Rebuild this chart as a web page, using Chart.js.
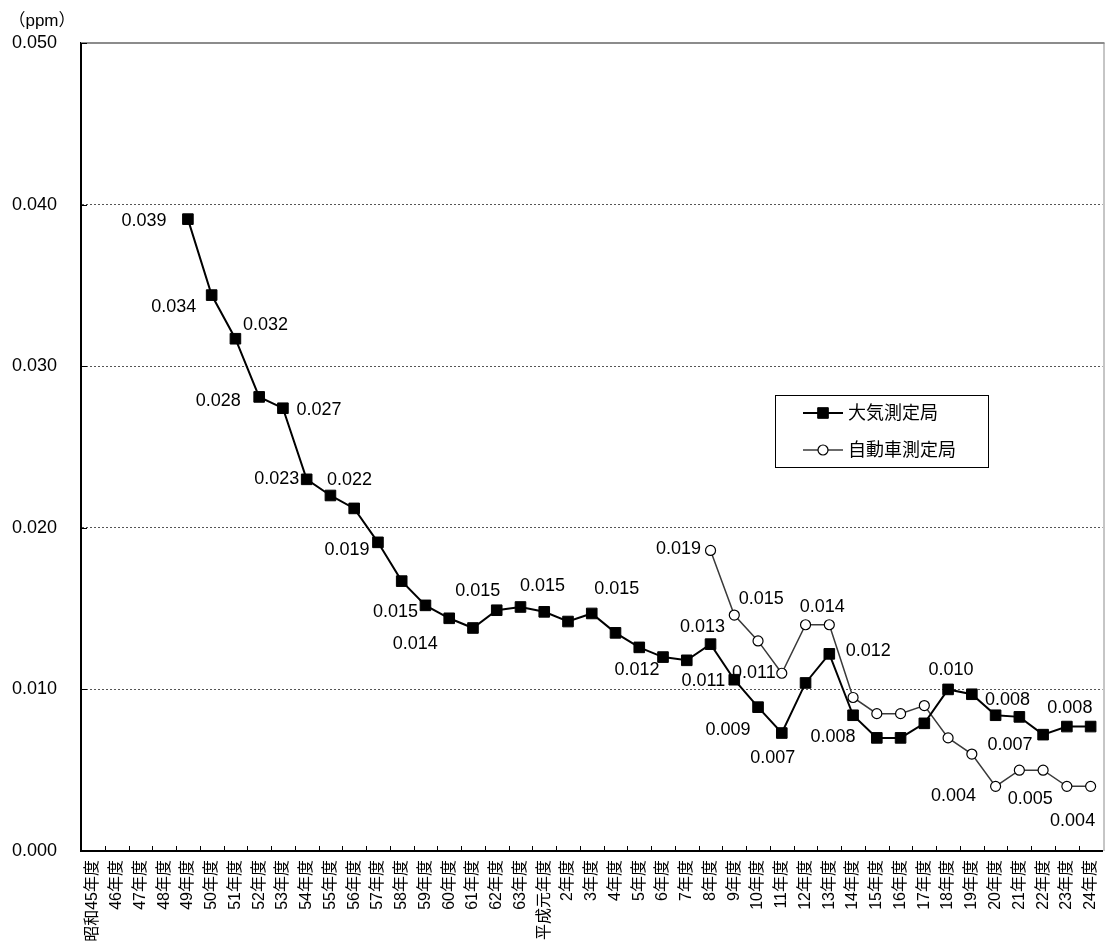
<!DOCTYPE html>
<html>
<head>
<meta charset="utf-8">
<script src="https://cdn.jsdelivr.net/npm/chart.js@4.4.0/dist/chart.umd.min.js"></script>
<style>
  html, body { margin: 0; padding: 0; background: #fff; }
  #wrap { width: 1111px; height: 944px; }
</style>
</head>
<body>
<div id="wrap"><canvas id="chart"></canvas></div>
<script>
const FONT = "'Liberation Sans', 'Noto Sans CJK JP', sans-serif";

const years = [
  "昭和45年度", "46年度", "47年度", "48年度", "49年度", "50年度", "51年度",
  "52年度", "53年度", "54年度", "55年度", "56年度", "57年度", "58年度",
  "59年度", "60年度", "61年度", "62年度", "63年度", "平成元年度", "2年度",
  "3年度", "4年度", "5年度", "6年度", "7年度", "8年度", "9年度", "10年度",
  "11年度", "12年度", "13年度", "14年度", "15年度", "16年度", "17年度",
  "18年度", "19年度", "20年度", "21年度", "22年度", "23年度", "24年度",
];

// 大気測定局
const taikiValues = [
  null, null, null, null, 0.0391, 0.0344, 0.0317, 0.0281, 0.0274, 0.0230,
  0.0220, 0.0212, 0.0191, 0.0167, 0.0152, 0.0144, 0.0138, 0.0149, 0.0151,
  0.0148, 0.0142, 0.0147, 0.0135, 0.0126, 0.0120, 0.0118, 0.0128, 0.0106,
  0.0089, 0.0073, 0.0104, 0.0122, 0.0084, 0.0070, 0.0070, 0.0079, 0.0100,
  0.0097, 0.0084, 0.0083, 0.0072, 0.0077, 0.0077,
];

// 自動車測定局
const jidoshaValues = [
  null, null, null, null, null, null, null, null, null, null, null, null,
  null, null, null, null, null, null, null, null, null, null, null, null,
  null, null, 0.0186, 0.0146, 0.0130, 0.0110, 0.0140, 0.0140, 0.0095,
  0.0085, 0.0085, 0.0090, 0.0070, 0.0060, 0.0040, 0.0050, 0.0050, 0.0040,
  0.0040,
];

const seriesNames = ["大気測定局", "自動車測定局"];
const yTicks = [0, 0.01, 0.02, 0.03, 0.04, 0.05];

// which points get a value label, and where the text sits relative to the point
const taikiLabelAt = [
  [4, -44, 2], [5, -38, 12], [6, 30, -14], [7, -41, 4], [8, 36, 2],
  [9, -30, 0], [10, 19, -15], [12, -31, 8], [14, -30, 7], [15, -34, 26],
  [17, -19, -19], [18, 22, -21], [21, 25, -24], [24, -26, 13], [26, -8, -17],
  [27, -31, 1], [28, -30, 23], [29, -9, 25], [31, 39, -3], [32, -20, 22],
  [36, 3, -19], [38, 12, -15], [40, -33, 10], [41, 3, -19],
];
const jidoshaLabelAt = [
  [26, -32, -1], [27, 27, -16], [29, -28, 0], [31, -7, -18],
  [38, -42, 10], [39, 11, 29], [42, -18, 35],
];

const decorations = {
  id: "decorations",
  afterDraw(chart) {
    const { ctx, chartArea: area, scales } = chart;
    const x = scales.x;
    const y = scales.y;
    ctx.save();

    // frame top/right
    ctx.strokeStyle = "#8c8c8c";
    ctx.lineWidth = 2;
    ctx.beginPath();
    ctx.moveTo(area.left, area.top);
    ctx.lineTo(area.right + 2, area.top);
    ctx.stroke();
    ctx.lineWidth = 1;
    ctx.beginPath();
    ctx.moveTo(area.right + 1.5, area.top);
    ctx.lineTo(area.right + 1.5, area.bottom);
    ctx.stroke();

    // inward tick marks
    ctx.strokeStyle = "#000";
    ctx.lineWidth = 1;
    ctx.beginPath();
    for (let i = 1; i < years.length; i++) {
      const px = Math.round((x.getPixelForValue(i - 1) + x.getPixelForValue(i)) / 2) + 0.5;
      ctx.moveTo(px, area.bottom);
      ctx.lineTo(px, area.bottom - 5);
    }
    yTicks.forEach((v) => {
      const py = Math.round(y.getPixelForValue(v)) + 0.5;
      ctx.moveTo(area.left, py);
      ctx.lineTo(area.left + 6, py);
    });
    ctx.stroke();

    // value labels
    ctx.fillStyle = "#000";
    ctx.font = "18px " + FONT;
    ctx.textAlign = "center";
    ctx.textBaseline = "middle";
    const drawLabels = (values, list) => {
      list.forEach(([i, dx, dy]) => {
        const px = x.getPixelForValue(i);
        const py = y.getPixelForValue(values[i]);
        ctx.fillText(values[i].toFixed(3), px + dx, py + dy);
      });
    };
    drawLabels(taikiValues, taikiLabelAt);
    drawLabels(jidoshaValues, jidoshaLabelAt);

    // unit
    ctx.font = "17px " + FONT;
    ctx.fillText("（ppm）", 42, 21);

    // legend box
    const lx = 775, ly = 395, lw = 213, lh = 72;
    ctx.fillStyle = "#fff";
    ctx.fillRect(lx, ly, lw, lh);
    ctx.strokeStyle = "#000";
    ctx.lineWidth = 1;
    ctx.strokeRect(lx + 0.5, ly + 0.5, lw, lh);
    ctx.font = "18px " + FONT;
    ctx.textAlign = "left";
    chart.data.datasets.forEach((ds, k) => {
      const cy = ly + 18 + k * 37;
      ctx.strokeStyle = ds.borderColor;
      ctx.lineWidth = ds.borderWidth;
      ctx.beginPath();
      ctx.moveTo(lx + 28, cy);
      ctx.lineTo(lx + 68, cy);
      ctx.stroke();
      ctx.fillStyle = ds.pointBackgroundColor;
      ctx.strokeStyle = ds.pointBorderColor;
      ctx.lineWidth = ds.pointBorderWidth;
      ctx.beginPath();
      if (ds.pointStyle === "rect") {
        const s = ds.pointRadius * Math.SQRT1_2;
        ctx.rect(lx + 48 - s, cy - s, 2 * s, 2 * s);
      } else {
        ctx.arc(lx + 48, cy, ds.pointRadius, 0, Math.PI * 2);
      }
      ctx.fill();
      ctx.stroke();
      ctx.fillStyle = "#000";
      ctx.fillText(ds.label, lx + 73, cy + 1);
    });

    ctx.restore();
  },
};

new Chart(document.getElementById("chart"), {
  type: "line",
  data: {
    labels: years,
    datasets: [
      {
        label: seriesNames[0],
        data: taikiValues,
        borderColor: "#000",
        borderWidth: 2,
        pointStyle: "rect",
        pointRadius: 7.5,
        pointBackgroundColor: "#000",
        pointBorderColor: "#000",
        pointBorderWidth: 1,
        tension: 0,
      },
      {
        label: seriesNames[1],
        data: jidoshaValues,
        borderColor: "#3a3a3a",
        borderWidth: 1.5,
        pointStyle: "circle",
        pointRadius: 5,
        pointBackgroundColor: "#fff",
        pointBorderColor: "#000",
        pointBorderWidth: 1.2,
        tension: 0,
      },
    ],
  },
  options: {
    responsive: true,
    maintainAspectRatio: false,
    animation: false,
    layout: { padding: { top: 43, right: 3, left: 0, bottom: 0 } },
    plugins: {
      legend: { display: false },
      tooltip: { enabled: false },
    },
    scales: {
      x: {
        type: "category",
        offset: true,
        grid: { display: false, drawTicks: false },
        border: { display: true, color: "#000", width: 2 },
        ticks: {
          autoSkip: false,
          minRotation: 90,
          maxRotation: 90,
          padding: 9,
          color: "#000",
          font: { family: FONT, size: 16 },
        },
        afterFit(scale) {
          scale.height = 93;
          scale.paddingLeft = 0;
          scale.paddingRight = 0;
        },
      },
      y: {
        min: 0,
        max: 0.05,
        afterBuildTicks(scale) {
          scale.ticks = yTicks.map((v) => ({ value: v }));
        },
        grid: {
          drawTicks: false,
          color: (c) => (c.tick && c.tick.value > 0 && c.tick.value < 0.05 ? "#555" : "rgba(0,0,0,0)"),
          lineWidth: 1,
        },
        border: { display: true, color: "#000", width: 2, dash: [2, 2] },
        ticks: {
          padding: 24,
          color: "#000",
          font: { family: FONT, size: 18 },
          callback: (v) => Number(v).toFixed(3),
        },
        afterFit(scale) { scale.width = 81; },
      },
    },
  },
  plugins: [decorations],
});
</script>
</body>
</html>
